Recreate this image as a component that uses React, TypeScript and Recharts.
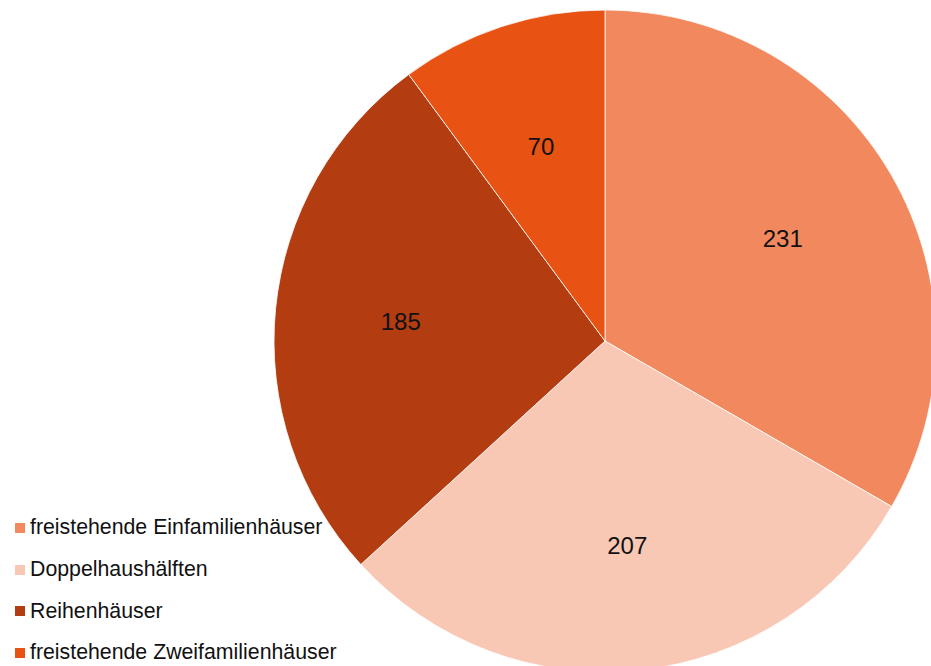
import React from "react";
import { PieChart, Pie, Cell, Legend } from "recharts";

const categories = [
  "freistehende Einfamilienhäuser",
  "Doppelhaushälften",
  "Reihenhäuser",
  "freistehende Zweifamilienhäuser",
];
const values = [231, 207, 185, 70];
const colors = ["#F2895E", "#F8C8B4", "#B33C11", "#E85314"];

const data = categories.map((name, i) => ({ name, value: values[i] }));

const RAD = Math.PI / 180;

const renderLabel = (props: any) => {
  const { cx, cy, midAngle, outerRadius, value } = props;
  const r = outerRadius * 0.62;
  const x = cx + r * Math.cos(-midAngle * RAD);
  const y = cy + r * Math.sin(-midAngle * RAD);
  return (
    <text
      x={x}
      y={y}
      textAnchor="middle"
      dominantBaseline="central"
      fill="#111"
      fontSize={24}
      fontFamily="Liberation Sans, Arial, sans-serif"
    >
      {value}
    </text>
  );
};

const renderLegend = () => {
  return (
    <div style={{ fontFamily: "Liberation Sans, Arial, sans-serif" }}>
      {categories.map((name, i) => (
        <div
          key={name}
          style={{
            display: "flex",
            alignItems: "center",
            height: 41.7,
            fontSize: 21.3,
            color: "#111",
            whiteSpace: "nowrap",
          }}
        >
          <span
            style={{
              display: "inline-block",
              width: 10,
              height: 10,
              background: colors[i],
              marginLeft: 15,
              marginRight: 5,
            }}
          />
          <span>{name}</span>
        </div>
      ))}
    </div>
  );
};

export default function App() {
  return (
    <div style={{ position: "absolute", left: 0, top: 0, width: 931, height: 666, background: "#fff" }}>
      <PieChart width={931} height={666} margin={{ top: 0, right: 0, bottom: 0, left: 0 }}>
        <Pie
          data={data}
          dataKey="value"
          nameKey="name"
          cx={605}
          cy={341}
          outerRadius={331}
          startAngle={90}
          endAngle={-270}
          stroke="#ffffff"
          strokeWidth={0.8}
          label={renderLabel}
          labelLine={false}
          isAnimationActive={false}
        >
          {data.map((d, i) => (
            <Cell key={d.name} fill={colors[i]} />
          ))}
        </Pie>
        <Legend
          content={renderLegend}
          wrapperStyle={{ position: "absolute", left: 0, top: 507, width: 360 }}
        />
      </PieChart>
    </div>
  );
}
